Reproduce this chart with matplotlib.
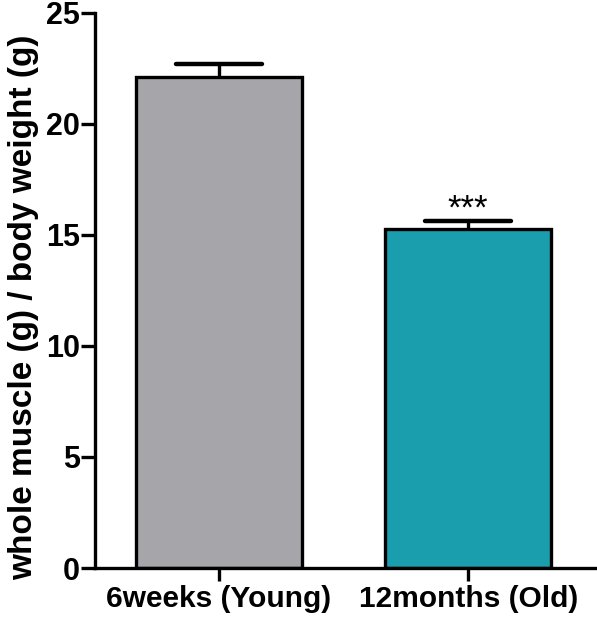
import matplotlib
matplotlib.use("Agg")
import matplotlib.pyplot as plt

categories = ["6weeks (Young)", "12months (Old)"]
means = [22.1, 15.25]
errors = [0.62, 0.38]
colors = ["#a6a5aa", "#1a9dac"]
significance = ["", "***"]
yticks = [0, 5, 10, 15, 20, 25]

plt.rcParams['font.family'] = ['Liberation Sans', 'DejaVu Sans']

fig = plt.figure(figsize=(5.97, 6.17), dpi=100)
ax = fig.add_axes([0.159, 0.0794, 0.838, 0.8996])

x = list(range(len(categories)))
bar_w = 0.667
cap_w = 0.345
ax.bar(x, means, width=bar_w, color=colors, edgecolor="black", linewidth=2.4, zorder=2)
tops = [m + e for m, e in zip(means, errors)]
ax.vlines(x, means, tops, color="black", linewidth=2.4, zorder=1)
ax.hlines(tops, [xi - cap_w / 2 for xi in x], [xi + cap_w / 2 for xi in x],
          color="black", linewidth=3.2, zorder=1, capstyle="round")
for xi, t, s in zip(x, tops, significance):
    if s:
        ax.text(xi, t - 0.2, s, ha="center", va="bottom", fontsize=25, color="black")

ax.set_xlim(-0.498, 1.51)
ax.set_ylim(0, 25)
ax.set_yticks(yticks)
ax.set_xticks(x)
ax.set_xticklabels(categories, fontsize=21.5, fontweight="bold")
ax.set_yticklabels([str(v) for v in yticks], fontsize=22, fontweight="bold")
ax.set_ylabel("whole muscle (g) / body weight (g)", fontsize=24, fontweight="bold")
ax.yaxis.set_label_coords(-0.112, 0.47)

for side in ["top", "right"]:
    ax.spines[side].set_visible(False)
for side in ["left", "bottom"]:
    ax.spines[side].set_linewidth(2.4)
ax.tick_params(axis="y", width=2.4, length=10, pad=1)
ax.tick_params(axis="x", width=2.4, length=9, pad=3)

fig.savefig("out.png", dpi=100)
